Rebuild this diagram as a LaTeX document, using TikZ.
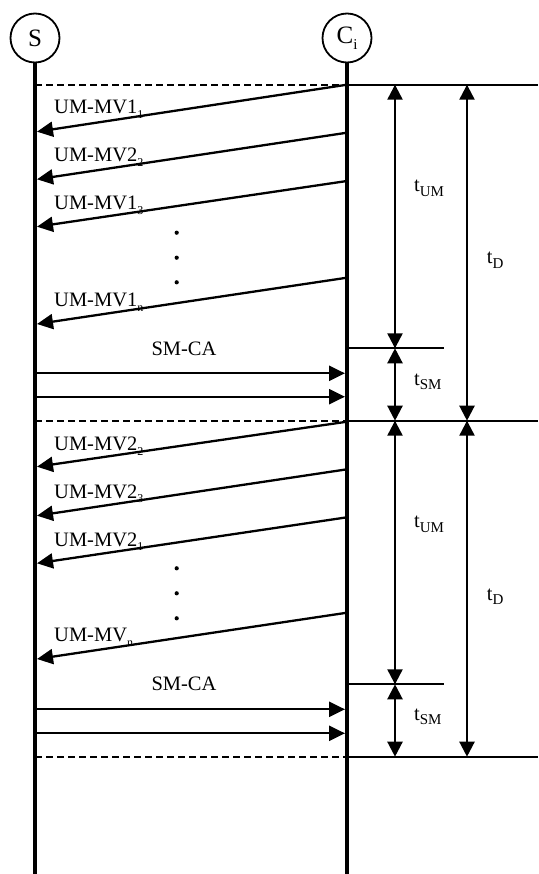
\documentclass[tikz,border=0pt]{standalone}
\usepackage{fontspec}
\setmainfont{Liberation Serif}
\usetikzlibrary{arrows.meta}
\newcommand{\sbs}[2][12]{\raisebox{-0.22em}{\fontsize{#1}{#1}\selectfont #2}}
\begin{document}
\begin{tikzpicture}[x=1pt,y=-1pt,
  life/.style={line width=4pt},
  msg/.style={line width=2.3pt,-{Triangle[length=16pt,width=15pt]}},
  dim/.style={line width=2.3pt,{Triangle[length=15pt,width=15pt]}-{Triangle[length=15pt,width=15pt]}},
  sep/.style={line width=2.2pt,dash pattern=on 7pt off 4pt},
  rule/.style={line width=2.2pt},
  lab/.style={anchor=base west,inner sep=0pt,font=\fontsize{20.5}{24}\selectfont},
  mid/.style={anchor=base,inner sep=0pt,font=\fontsize{20.5}{24}\selectfont},
  actor/.style={circle,draw,line width=1.8pt,minimum size=49pt,inner sep=0pt,font=\fontsize{25}{28}\selectfont},
  dot/.style={circle,fill,inner sep=0pt,minimum size=4.2pt}]
\useasboundingbox (0,0) rectangle (538,874);
% actors and lifelines
\node[actor] (S) at (35,38) {S};
\node[actor] (C) at (347,38) {C\sbs[15]{i}};
\coordinate (Sb) at (35,874);
\coordinate (Cb) at (347,874);
\draw[life] (S.south) -- (Sb);
\draw[life] (C.south) -- (Cb);
% separators
\foreach \n/\y in {1/84.7,2/420.7,3/756.7}{
  \coordinate (sl\n) at (35,\y);
  \coordinate (sc\n) at (347,\y);
  \coordinate (sr\n) at (538,\y);
  \draw[sep] (sl\n) -- (sc\n);
  \draw[rule] (sc\n) -- (sr\n);
}
% short rules
\foreach \n/\y in {1/348.3,2/684.3}{
  \coordinate (hl\n) at (347,\y);
  \coordinate (hr\n) at (444,\y);
  \draw[rule] (hl\n) -- (hr\n);
}
% UM messages
\foreach \n/\ys/\ye in {1/84.7/131.7,2/132.7/179.3,3/181/226.7,4/277.7/324,
                        5/421.7/466.7,6/469.3/515.7,7/517.3/563.3,8/612.7/659}{
  \coordinate (ms\n) at (347,\ys);
  \coordinate (me\n) at (37,\ye);
  \draw[msg] (ms\n) -- (me\n);
}
\node[lab] (l1) at (54,114) {UM-MV1\sbs{1}};
\node[lab] (l2) at (54,161.7) {UM-MV2\sbs{2}};
\node[lab] (l3) at (54,210) {UM-MV1\sbs{3}};
\node[lab] (l4) at (54,306.7) {UM-MV1\sbs{n}};
\node[lab] (l5) at (54,450.7) {UM-MV2\sbs{2}};
\node[lab] (l6) at (54,498.3) {UM-MV2\sbs{3}};
\node[lab] (l7) at (54,546) {UM-MV2\sbs{1}};
\node[lab] (l8) at (54,641.7) {UM-MV\sbs{n}};
% dots
\foreach \n/\y in {1/232.7,2/257.7,3/282.3,4/568.3,5/593.3,6/618.3}{
  \node[dot] (d\n) at (176.7,\y) {};
}
% SM messages
\foreach \n/\y in {1/373.3,2/396.7,3/709.3,4/733.3}{
  \coordinate (ss\n) at (35,\y);
  \coordinate (se\n) at (345,\y);
  \draw[msg] (ss\n) -- (se\n);
}
\node[mid] (sm1) at (184,355.7) {SM-CA};
\node[mid] (sm2) at (184,690.7) {SM-CA};
% dimension arrows
\coordinate (u1t) at (395,84.7);  \coordinate (u1b) at (395,348.3);
\coordinate (s1t) at (395,348.3); \coordinate (s1b) at (395,420.7);
\coordinate (d1t) at (467,84.7);  \coordinate (d1b) at (467,420.7);
\coordinate (u2t) at (395,420.7); \coordinate (u2b) at (395,684.3);
\coordinate (s2t) at (395,684.3); \coordinate (s2b) at (395,756.7);
\coordinate (d2t) at (467,420.7); \coordinate (d2b) at (467,756.7);
\draw[dim] (u1t) -- (u1b);
\draw[dim] (s1t) -- (s1b);
\draw[dim] (d1t) -- (d1b);
\draw[dim] (u2t) -- (u2b);
\draw[dim] (s2t) -- (s2b);
\draw[dim] (d2t) -- (d2b);
\node[lab] (tu1) at (414,191.7) {t\sbs[15]{UM}};
\node[lab] (ts1) at (414,385) {t\sbs[15]{SM}};
\node[lab] (td1) at (486.7,264) {t\sbs[15]{D}};
\node[lab] (tu2) at (414,527.7) {t\sbs[15]{UM}};
\node[lab] (ts2) at (414,720) {t\sbs[15]{SM}};
\node[lab] (td2) at (486.7,600) {t\sbs[15]{D}};
\end{tikzpicture}
\end{document}
